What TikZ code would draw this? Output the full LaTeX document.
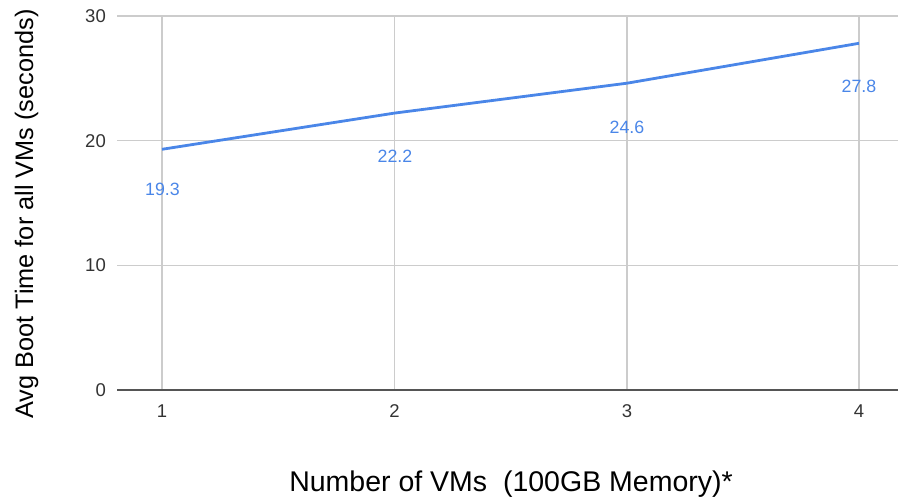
\documentclass[tikz,border=0pt]{standalone}
\usepackage{fontspec}
\setmainfont{Liberation Sans}
\definecolor{gridc}{HTML}{CCCCCC}
\definecolor{axisc}{HTML}{555555}
\definecolor{tickc}{HTML}{333333}
\definecolor{serc}{HTML}{4A86E8}
\begin{document}
\begin{tikzpicture}[x=1pt,y=-1pt,
  grid/.style={draw=gridc,line width=1.3pt},
  ticklab/.style={text=tickc,font=\fontsize{18.5}{20}\selectfont,inner sep=0pt},
  datalab/.style={text=serc,font=\fontsize{17.8}{20}\selectfont,inner sep=0pt,anchor=base},
  axtitle/.style={text=black,inner sep=0pt,anchor=base}]
\useasboundingbox (0,0) rectangle (898,497);
% horizontal gridlines
\foreach \v/\yy in {10/265.3,20/140.7,30/16} {
  \draw[grid] (117,\yy) -- (898,\yy);
  \node[ticklab,anchor=east] (ylab\v) at (106,\yy) {\v};
}
\node[ticklab,anchor=east] (ylab0) at (106,390) {0};
% vertical gridlines
\foreach \i/\xx in {1/162,2/394.5,3/627,4/859} {
  \draw[grid] (\xx,16) -- (\xx,390);
  \node[ticklab] (xlab\i) at (\xx,411) {\i};
}
% axis
\draw[axisc,line width=1.5pt] (117,390) -- (898,390);
% series
\coordinate (p1) at (162,149.3);
\coordinate (p2) at (394.5,113.1);
\coordinate (p3) at (627,83.2);
\coordinate (p4) at (859,43.3);
\draw[serc,line width=2.8pt,line join=round] (p1) -- (p2) -- (p3) -- (p4);
\node[datalab] (d1) at (162.5,195.5) {19.3};
\node[datalab] (d2) at (395,163) {22.2};
\node[datalab] (d3) at (627,134) {24.6};
\node[datalab] (d4) at (859,93) {27.8};
% titles
\node[axtitle,font=\fontsize{28.5}{30}\selectfont] (xt) at (511,491) {Number of VMs\ \ (100GB Memory)*};
\node[axtitle,font=\fontsize{25.3}{28}\selectfont,rotate=90] (yt) at (33,214) {Avg Boot Time for all VMs (seconds)};
\end{tikzpicture}
\end{document}
